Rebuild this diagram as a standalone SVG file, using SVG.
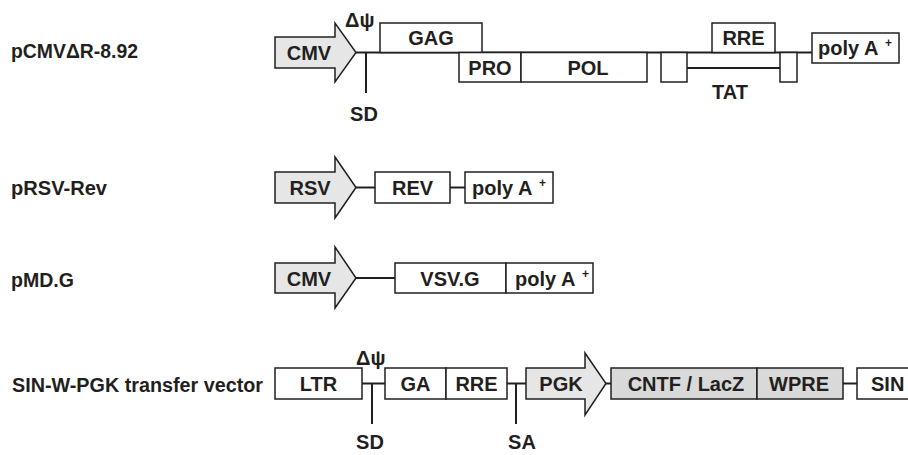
<svg xmlns="http://www.w3.org/2000/svg" width="908" height="455" viewBox="0 0 908 455">
<style>
.t{font-family:"Liberation Sans",Arial,sans-serif;font-weight:bold;font-size:20px;fill:#231f20}
.c{text-anchor:middle}
.sup{font-family:"Liberation Sans",Arial,sans-serif;font-weight:bold;font-size:12px;fill:#231f20}
.box{fill:#fff;stroke:#231f20;stroke-width:1.5}
.arr{fill:#e6e6e6;stroke:#231f20;stroke-width:1.5;stroke-linejoin:miter}
.dark{fill:#d9d9d9;stroke:#231f20;stroke-width:1.5}
.ln{stroke:#231f20;stroke-width:2;fill:none}
</style>
<rect width="908" height="455" fill="#fff"/>

<g id="labels">
<text class="t" x="11" y="58" textLength="127" lengthAdjust="spacingAndGlyphs">pCMVΔR-8.92</text>
<text class="t" x="11" y="195" textLength="96" lengthAdjust="spacingAndGlyphs">pRSV-Rev</text>
<text class="t" x="11" y="287" textLength="63" lengthAdjust="spacingAndGlyphs">pMD.G</text>
<text class="t" x="12" y="392" textLength="251" lengthAdjust="spacingAndGlyphs">SIN-W-PGK transfer vector</text>
</g>

<g id="connectors">
<line class="ln" x1="356" y1="52.5" x2="812" y2="52.5"/>
<line class="ln" x1="366" y1="52.5" x2="366" y2="93"/>
<line class="ln" x1="687" y1="68" x2="780" y2="68"/>
<line class="ln" x1="356" y1="187.5" x2="375" y2="187.5"/>
<line class="ln" x1="450" y1="187.5" x2="465" y2="187.5"/>
<line class="ln" x1="356" y1="278" x2="395" y2="278"/>
<line class="ln" x1="362" y1="383.5" x2="385" y2="383.5"/>
<line class="ln" x1="372" y1="383.5" x2="372" y2="424"/>
<line class="ln" x1="507" y1="383.5" x2="526" y2="383.5"/>
<line class="ln" x1="516" y1="383.5" x2="516" y2="424"/>
<line class="ln" x1="606" y1="383.5" x2="611" y2="383.5"/>
<line class="ln" x1="843" y1="383.5" x2="857" y2="383.5"/>
</g>

<g id="cmv1">
<path class="arr" d="M275,37 L335,37 L335,23 L356,52.5 L335,82 L335,68 L275,68 Z"/>
<text class="t c" x="309" y="60">CMV</text>
</g>
<g id="psi1"><text class="t" x="345" y="27">Δψ</text></g>
<g id="sd1"><text class="t c" x="364" y="121">SD</text></g>
<g id="gag"><rect class="box" x="380" y="23" width="102" height="29.5"/><text class="t c" x="431" y="45">GAG</text></g>
<g id="pro"><rect class="box" x="459" y="52.5" width="62" height="29.5"/><text class="t c" x="490" y="75">PRO</text></g>
<g id="pol"><rect class="box" x="521" y="52.5" width="126" height="29.5"/><text class="t c" x="588" y="75">POL</text></g>
<g id="tat1"><rect class="box" x="661" y="52.5" width="26" height="29.5"/></g>
<g id="tat2"><rect class="box" x="780" y="52.5" width="17" height="29.5"/></g>
<g id="rre1"><rect class="box" x="712" y="23" width="63" height="29.5"/><text class="t c" x="743.5" y="45">RRE</text></g>
<g id="tat"><text class="t c" x="730" y="99">TAT</text></g>
<g id="polyA1"><rect class="box" x="812" y="33" width="87" height="30"/><text class="t" x="818" y="55">poly A</text><text class="sup" x="885" y="47">+</text></g>

<g id="rsv">
<path class="arr" d="M275,172 L335,172 L335,157 L356,187.5 L335,218 L335,203 L275,203 Z"/>
<text class="t c" x="310" y="195">RSV</text>
</g>
<g id="rev"><rect class="box" x="375" y="172" width="75" height="31"/><text class="t c" x="412.5" y="195">REV</text></g>
<g id="polyA2"><rect class="box" x="465" y="172" width="88" height="31"/><text class="t" x="472" y="195">poly A</text><text class="sup" x="539" y="187">+</text></g>

<g id="cmv3">
<path class="arr" d="M275,263 L335,263 L335,247 L356,278 L335,308 L335,293 L275,293 Z"/>
<text class="t c" x="309" y="286">CMV</text>
</g>
<g id="vsvg"><rect class="box" x="395" y="263" width="111" height="30"/><text class="t c" x="450" y="286">VSV.G</text></g>
<g id="polyA3"><rect class="box" x="506" y="263" width="87" height="30"/><text class="t" x="515" y="286">poly A</text><text class="sup" x="582" y="278">+</text></g>

<g id="ltr"><rect class="box" x="275" y="368" width="87" height="31"/><text class="t c" x="318.5" y="391">LTR</text></g>
<g id="psi4"><text class="t" x="356" y="365">Δψ</text></g>
<g id="sd4"><text class="t c" x="370" y="449">SD</text></g>
<g id="ga"><rect class="box" x="385" y="368" width="61" height="31"/><text class="t c" x="415.5" y="391">GA</text></g>
<g id="rre4"><rect class="box" x="446" y="368" width="61" height="31"/><text class="t c" x="476.5" y="391">RRE</text></g>
<g id="sa"><text class="t c" x="522" y="449">SA</text></g>
<g id="pgk">
<path class="arr" d="M526,368 L585,368 L585,353 L606,383.5 L585,415 L585,399 L526,399 Z"/>
<text class="t c" x="561" y="391">PGK</text>
</g>
<g id="cntf"><rect class="dark" x="611" y="368" width="146" height="31"/><text class="t c" x="686" y="391">CNTF / LacZ</text></g>
<g id="wpre"><rect class="dark" x="757" y="368" width="86" height="31"/><text class="t c" x="799" y="391">WPRE</text></g>
<g id="sin"><rect class="box" x="857" y="368" width="60" height="31"/><text class="t" x="871" y="391">SIN</text></g>
</svg>
